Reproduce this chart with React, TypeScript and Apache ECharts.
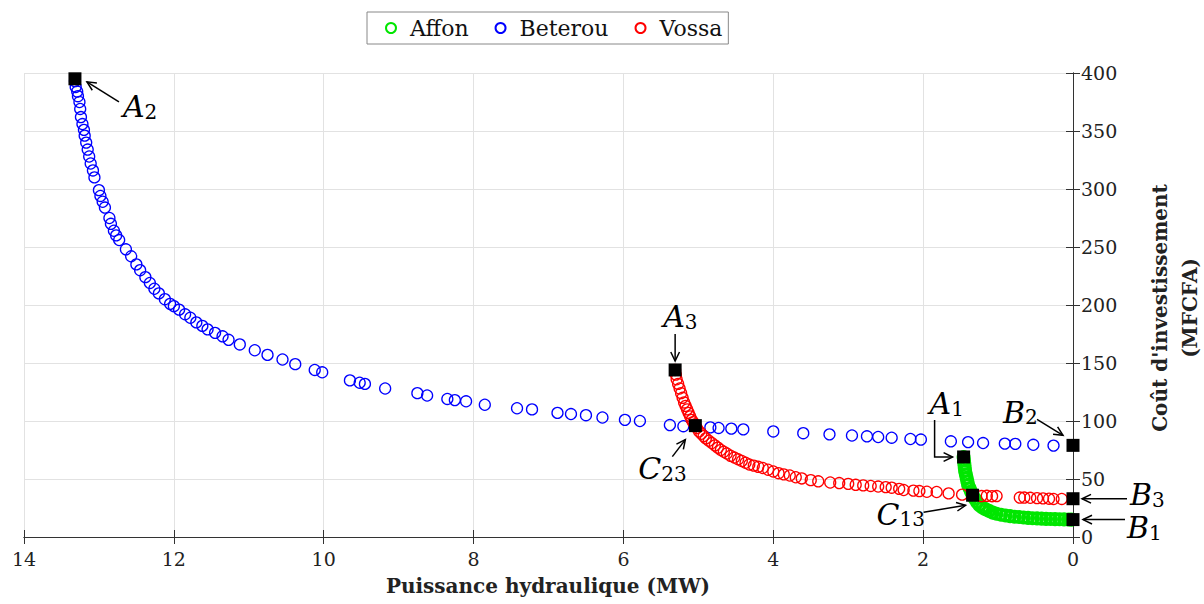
import React, { useEffect, useRef } from "react";
import * as echarts from "echarts";

// ---- Data ----
const seriesNames = ["Affon", "Beterou", "Vossa"];
const seriesColors = ["#00e600", "#0000ff", "#ff0000"];

const affonPoints: number[][] = [
  [1.46, 69], [1.455, 66], [1.45, 63], [1.445, 60], [1.44, 57], [1.43, 54], [1.42, 51],
  [1.41, 48], [1.4, 45], [1.38, 42], [1.36, 39], [1.34, 36.5], [1.31, 33], [1.28, 30],
  [1.25, 27.5], [1.21, 25.5], [1.17, 24], [1.12, 22.5], [1.07, 21], [1.02, 20],
  [0.96, 19.2], [0.9, 18.5], [0.84, 18], [0.78, 17.5], [0.72, 17.2], [0.66, 16.8],
  [0.6, 16.5], [0.54, 16.2], [0.48, 16], [0.42, 15.8], [0.36, 15.6], [0.3, 15.5],
  [0.24, 15.4], [0.18, 15.3], [0.12, 15.2], [0.06, 15.1], [0.02, 15],
];

const beterouPoints: number[][] = [
  [13.32, 393], [13.31, 388], [13.29, 384], [13.28, 380], [13.26, 375], [13.25, 369],
  [13.24, 362], [13.22, 356], [13.2, 351], [13.19, 346], [13.17, 340], [13.15, 334],
  [13.13, 328], [13.11, 322], [13.08, 316], [13.06, 310], [13.0, 299], [12.98, 294],
  [12.95, 289], [12.92, 284], [12.86, 275], [12.84, 270], [12.8, 264], [12.77, 260],
  [12.73, 256], [12.64, 248], [12.57, 242], [12.5, 235], [12.45, 230], [12.38, 224],
  [12.32, 219], [12.26, 214], [12.2, 210], [12.12, 205], [12.05, 201], [12.0, 199],
  [11.93, 196], [11.85, 192], [11.78, 189], [11.7, 185], [11.62, 182], [11.55, 179],
  [11.45, 176], [11.35, 173], [11.27, 170], [11.12, 166], [10.92, 161], [10.75, 157],
  [10.55, 153], [10.38, 149], [10.12, 144], [10.02, 142], [9.65, 135], [9.52, 133],
  [9.45, 132], [9.18, 128], [8.75, 124], [8.62, 122], [8.35, 119], [8.25, 118],
  [8.1, 117], [7.85, 114], [7.42, 111], [7.22, 110], [6.88, 107], [6.7, 106],
  [6.5, 105], [6.28, 103], [5.98, 101], [5.78, 100], [5.38, 96.5], [5.2, 95.5],
  [4.84, 94.5], [4.73, 94], [4.56, 93.4], [4.4, 92.8], [4.0, 91], [3.6, 89.5],
  [3.25, 88.5], [2.95, 87.5], [2.75, 86.8], [2.6, 86.2], [2.42, 85.6], [2.17, 84.5],
  [2.03, 84], [1.63, 82.5], [1.4, 81.8], [1.2, 81], [0.91, 80.5], [0.77, 80.3],
  [0.53, 79.5], [0.26, 78.8],
];

const vossaPoints: number[][] = [
  [5.31, 144], [5.3, 140], [5.29, 136], [5.27, 132], [5.25, 128], [5.23, 124], [5.21, 120],
  [5.19, 116], [5.17, 113], [5.15, 110], [5.13, 107], [5.11, 104], [5.09, 101], [5.07, 99],
  [5.05, 97], [5.02, 94], [4.99, 91], [4.96, 89], [4.93, 87], [4.9, 85], [4.86, 83],
  [4.82, 81], [4.78, 79], [4.74, 77], [4.7, 75], [4.66, 73.5], [4.62, 72], [4.57, 70],
  [4.52, 68.5], [4.47, 67], [4.42, 65.5], [4.37, 64], [4.32, 62.5], [4.26, 61.5],
  [4.2, 60.5], [4.14, 59.5], [4.07, 58], [4.0, 56.5], [3.93, 55], [3.86, 54], [3.78, 53],
  [3.7, 51.5], [3.62, 50.5], [3.5, 49], [3.4, 48], [3.24, 47], [3.12, 46.5], [3.0, 45.8],
  [2.9, 45], [2.8, 44.5], [2.7, 44], [2.6, 43.5], [2.5, 43], [2.42, 42.5], [2.32, 41.5],
  [2.26, 40.5], [2.13, 40], [2.05, 39.6], [1.95, 39], [1.82, 38.8], [1.66, 37.6],
  [1.48, 36.5], [1.22, 35.3], [1.15, 35.5], [1.08, 35.2], [1.02, 35.3], [0.71, 34],
  [0.65, 34], [0.57, 33.8], [0.48, 33.5], [0.4, 33.3], [0.32, 33], [0.26, 32.8], [0.15, 32.8],
];

// key points (black squares)
const keyLetters = ["A", "A", "C", "A", "B", "C", "B", "B"];
const keySubs = ["2", "3", "23", "1", "2", "13", "3", "1"];
const keyX = [13.32, 5.31, 5.04, 1.46, 0, 1.34, 0, 0];
const keyY = [395, 144, 96, 69, 79, 36, 33, 15];

const xTicks = { min: 0, max: 14, interval: 2 };
const yTicks = { min: 0, max: 400, interval: 50 };
const xTitle = "Puissance hydraulique (MW)";
const yTitle = "Coût d'investissement\n(MFCFA)";

// ---- layout of annotations (pixel offsets from the key point) ----
const labelOffsets = [[48, 13], [-12, -68], [-57, 28], [-34, -68], [-70, -48], [-96, 4], [57, -19], [54, -7]];
const arrowPaths = [
  [[44, 23], [12, 3]],
  [[0, -36], [0, -9]],
  [[-23, 31], [-10, 14]],
  [[-29, -37], [-29, 0], [-11, 0]],
  [[-36, -26], [-10, -10]],
  [[-49, 17], [-7, 10]],
  [[54, 0], [9, 0]],
  [[52, 0], [10, 0]],
];

const FONT = "'DejaVu Serif', serif";

function arrowElements(pts: number[][]) {
  const els: any[] = [];
  els.push({
    type: "polyline",
    shape: { points: pts },
    style: { stroke: "#000", lineWidth: 1.5, fill: null },
    z: 100,
  });
  const [x1, y1] = pts[pts.length - 2];
  const [x2, y2] = pts[pts.length - 1];
  const ang = Math.atan2(y2 - y1, x2 - x1);
  const L = 10, a = 0.45;
  const p1 = [x2 - L * Math.cos(ang - a), y2 - L * Math.sin(ang - a)];
  const p2 = [x2 - L * Math.cos(ang + a), y2 - L * Math.sin(ang + a)];
  els.push({
    type: "polyline",
    shape: { points: [p1, [x2, y2], p2] },
    style: { stroke: "#000", lineWidth: 1.5, fill: null },
    z: 100,
  });
  return els;
}

export default function App() {
  const ref = useRef<HTMLDivElement>(null);

  useEffect(() => {
    document.body.style.margin = "0";
    const chart = echarts.init(ref.current!, null, { renderer: "svg" });
    const pointSeries = (name: string, data: number[][], color: string, bw: number) => ({
      name,
      type: "scatter",
      data,
      symbol: "circle",
      symbolSize: 11,
      itemStyle: { color: "rgba(0,0,0,0)", borderColor: color, borderWidth: bw, opacity: 1 },
      emphasis: { disabled: true },
    });
    const axisLine = { show: true, lineStyle: { color: "#333", width: 1 } };
    const tick = { show: true, inside: true, length: 7, lineStyle: { color: "#333" } };
    const grid = { left: 24, right: 131, top: 73, bottom: 67 };
    chart.setOption({
      animation: false,
      backgroundColor: "#fff",
      grid,
      legend: {
        data: seriesNames,
        left: 367,
        top: 12,
        borderColor: "#888",
        borderWidth: 1,
        borderRadius: 0,
        padding: [5, 6, 5, 18],
        itemGap: 26,
        itemWidth: 10,
        itemHeight: 10,
        icon: "circle",
        textStyle: { fontFamily: FONT, fontSize: 22, color: "#111", padding: [0, 0, 0, 9] },
      },
      xAxis: [
        {
          type: "value",
          inverse: true,
          ...xTicks,
          position: "bottom",
          axisLine,
          axisTick: tick,
          axisLabel: { fontFamily: FONT, fontSize: 19, color: "#222", margin: 12 },
          splitLine: { show: true, lineStyle: { color: "#e2e2e2" } },
        },
        {
          type: "value",
          inverse: true,
          ...xTicks,
          position: "top",
          axisLine,
          axisTick: tick,
          axisLabel: { show: false },
          splitLine: { show: false },
        },
      ],
      yAxis: [
        {
          type: "value",
          ...yTicks,
          position: "right",
          axisLine,
          axisTick: tick,
          axisLabel: { fontFamily: FONT, fontSize: 19, color: "#222", margin: 8 },
          splitLine: { show: true, lineStyle: { color: "#e2e2e2" } },
        },
        {
          type: "value",
          ...yTicks,
          position: "left",
          axisLine,
          axisTick: tick,
          axisLabel: { show: false },
          splitLine: { show: false },
        },
      ],
      series: [
        pointSeries(seriesNames[0], affonPoints, seriesColors[0], 3),
        pointSeries(seriesNames[1], beterouPoints, seriesColors[1], 1.3),
        pointSeries(seriesNames[2], vossaPoints, seriesColors[2], 1.3),
        {
          name: "key",
          type: "scatter",
          data: keyX.map((x, i) => [x, keyY[i]]),
          symbol: "rect",
          symbolSize: 13,
          itemStyle: { color: "#000", opacity: 1 },
          z: 10,
          emphasis: { disabled: true },
        },
      ],
    });

    const graphics: any[] = [];
    keyX.forEach((x, i) => {
      const p = chart.convertToPixel({ xAxisIndex: 0, yAxisIndex: 0 }, [x, keyY[i]]) as number[];
      const pts = arrowPaths[i].map(([dx, dy]) => [p[0] + dx, p[1] + dy]);
      graphics.push(...arrowElements(pts));
      const [lx, ly] = labelOffsets[i];
      graphics.push({
        type: "text",
        x: p[0] + lx,
        y: p[1] + ly,
        z: 100,
        style: {
          text: `{a|${keyLetters[i]}}{s|${keySubs[i]}}`,
          align: "left",
          verticalAlign: "top",
          rich: {
            a: { fontFamily: FONT, fontStyle: "italic", fontSize: 30, lineHeight: 30, fill: "#000", color: "#000", verticalAlign: "top" },
            s: { fontFamily: FONT, fontSize: 20, lineHeight: 20, fill: "#000", color: "#000", verticalAlign: "bottom", padding: [12, 0, 0, 0] },
          },
        },
      });
    });
    // axis titles
    graphics.push({
      type: "text",
      x: 548,
      y: 586,
      style: { text: xTitle, font: `bold 20px ${FONT}`, fill: "#222", align: "center", verticalAlign: "middle" },
    });
    graphics.push({
      type: "text",
      x: 1175,
      y: 308,
      rotation: Math.PI / 2,
      style: {
        text: yTitle,
        font: `bold 20px ${FONT}`,
        fill: "#222",
        align: "center",
        verticalAlign: "middle",
        lineHeight: 30,
      },
    });
    chart.setOption({ graphic: graphics });

    return () => chart.dispose();
  }, []);

  return <div ref={ref} style={{ width: 1204, height: 604 }} />;
}
